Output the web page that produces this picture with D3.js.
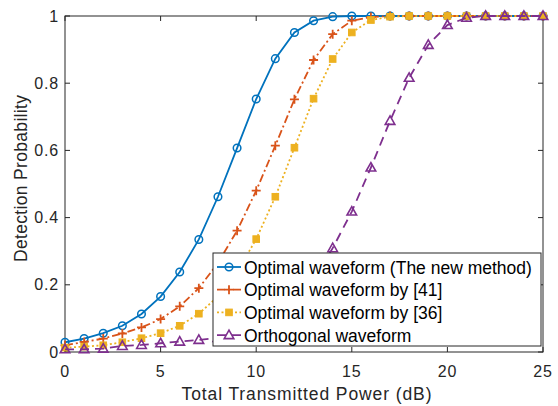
<!DOCTYPE html>
<html>
<head>
<meta charset="utf-8">
<script src="https://cdn.jsdelivr.net/npm/d3@7"></script>
<style>
  body { margin: 0; background: #fff; }
  svg { display: block; font-family: Arial, "Liberation Sans", sans-serif; }
</style>
</head>
<body>
<script>
// transmitted power (dB)
const power = d3.range(0, 26);

const newMethod = [0.029, 0.04, 0.056, 0.078, 0.113, 0.165, 0.238, 0.335, 0.462, 0.607,
  0.753, 0.873, 0.951, 0.986, 0.998, 1, 1, 1, 1, 1, 1, 1, 1, 1, 1, 1];
const ref41 = [0.02, 0.03, 0.04, 0.055, 0.073, 0.098, 0.136, 0.19, 0.265, 0.361,
  0.48, 0.614, 0.752, 0.869, 0.946, 0.986, 0.997, 1, 1, 1, 1, 1, 1, 1, 1, 1];
const ref36 = [0.013, 0.016, 0.02, 0.029, 0.041, 0.056, 0.078, 0.114, 0.165, 0.238,
  0.336, 0.462, 0.608, 0.754, 0.872, 0.951, 0.988, 0.998, 1, 1, 1, 1, 1, 1, 1, 1];
const orthogonal = [0.008, 0.008, 0.01, 0.018, 0.021, 0.026, 0.031, 0.036, 0.042, 0.05,
  0.065, 0.095, 0.145, 0.215, 0.309, 0.418, 0.549, 0.688, 0.816, 0.914, 0.973, 0.995, 1, 1, 1, 1];

const xTicks = [0, 5, 10, 15, 20, 25];
const yTicks = [0, 0.2, 0.4, 0.6, 0.8, 1];

const series = [
  { name: "Optimal waveform (The new method)", values: newMethod, color: "#0072BD", dash: null, marker: "circle" },
  { name: "Optimal waveform by [41]", values: ref41, color: "#D95319", dash: "8,3,2,3", marker: "plus" },
  { name: "Optimal waveform by [36]", values: ref36, color: "#EDB120", dash: "2,2.5", marker: "square" },
  { name: "Orthogonal waveform", values: orthogonal, color: "#7E2F8E", dash: "9,6", marker: "triangle" }
];

const width = 558, height = 406;
const margin = { top: 16, right: 15, bottom: 54, left: 65 };

const svg = d3.select("body").append("svg")
  .attr("width", width)
  .attr("height", height);

const x = d3.scaleLinear().domain([0, 25]).range([margin.left, width - margin.right]);
const y = d3.scaleLinear().domain([0, 1]).range([height - margin.bottom, margin.top]);

const axisColor = "#262626";

// box
svg.append("rect")
  .attr("x", x(0)).attr("y", y(1))
  .attr("width", x(25) - x(0)).attr("height", y(0) - y(1))
  .attr("fill", "none").attr("stroke", axisColor).attr("stroke-width", 1);

// ticks (inside, MATLAB style)
const tl = 5;
xTicks.forEach(t => {
  svg.append("line").attr("x1", x(t)).attr("x2", x(t)).attr("y1", y(0)).attr("y2", y(0) - tl)
    .attr("stroke", axisColor);
  svg.append("line").attr("x1", x(t)).attr("x2", x(t)).attr("y1", y(1)).attr("y2", y(1) + tl)
    .attr("stroke", axisColor);
});
yTicks.forEach(t => {
  svg.append("line").attr("x1", x(0)).attr("x2", x(0) + tl).attr("y1", y(t)).attr("y2", y(t))
    .attr("stroke", axisColor);
  svg.append("line").attr("x1", x(25)).attr("x2", x(25) - tl).attr("y1", y(t)).attr("y2", y(t))
    .attr("stroke", axisColor);
});

svg.selectAll(".xlab").data(xTicks).enter().append("text")
  .attr("x", d => x(d)).attr("y", y(0) + 24.5)
  .attr("text-anchor", "middle")
  .attr("font-size", 16).attr("letter-spacing", 0.8).attr("fill", axisColor)
  .text(d => d);

svg.selectAll(".ylab").data(yTicks).enter().append("text")
  .attr("x", x(0) - 6).attr("y", d => y(d) + 5.5)
  .attr("text-anchor", "end")
  .attr("font-size", 16).attr("letter-spacing", 0.8).attr("fill", axisColor)
  .text(d => d);

svg.append("text")
  .attr("x", 306.5).attr("y", 400)
  .attr("text-anchor", "middle").attr("font-size", 17.5).attr("fill", axisColor)
  .attr("textLength", 250).attr("lengthAdjust", "spacing")
  .text("Total Transmitted Power (dB)");

svg.append("text")
  .attr("transform", "translate(27,178.5) rotate(-90)")
  .attr("text-anchor", "middle").attr("font-size", 17.5).attr("fill", axisColor)
  .attr("textLength", 167).attr("lengthAdjust", "spacing")
  .text("Detection Probability");

// markers
function drawMarker(g, type, cx, cy, color) {
  if (type === "circle") {
    g.append("circle").attr("cx", cx).attr("cy", cy).attr("r", 3.8)
      .attr("fill", "none").attr("stroke", color).attr("stroke-width", 1.5);
  } else if (type === "plus") {
    g.append("path").attr("d", `M${cx - 4.5},${cy}H${cx + 4.5}M${cx},${cy - 4.5}V${cy + 4.5}`)
      .attr("stroke", color).attr("stroke-width", 1.8);
  } else if (type === "square") {
    g.append("rect").attr("x", cx - 3.3).attr("y", cy - 3.3).attr("width", 6.6).attr("height", 6.6)
      .attr("fill", color).attr("stroke", color).attr("stroke-width", 1);
  } else if (type === "triangle") {
    g.append("path").attr("d", `M${cx},${cy - 5}L${cx + 4.8},${cy + 3.5}L${cx - 4.8},${cy + 3.5}Z`)
      .attr("fill", "none").attr("stroke", color).attr("stroke-width", 1.6);
  }
}

const line = d3.line().x((d, i) => x(power[i])).y(d => y(d));

const plot = svg.append("g");
series.forEach(s => {
  const g = plot.append("g");
  g.append("path").datum(s.values)
    .attr("d", line)
    .attr("fill", "none")
    .attr("stroke", s.color)
    .attr("stroke-width", 1.8)
    .attr("stroke-dasharray", s.dash);
  s.values.forEach((v, i) => drawMarker(g, s.marker, x(power[i]), y(v), s.color));
});

// legend
const lg = svg.append("g");
const lx = 213, ly = 253, lw = 328, lh = 93;
lg.append("rect").attr("x", lx).attr("y", ly).attr("width", lw).attr("height", lh)
  .attr("fill", "#fff").attr("stroke", axisColor).attr("stroke-width", 1);

series.forEach((s, i) => {
  const cy = ly + 14 + i * 22.7;
  lg.append("line").attr("x1", lx + 4).attr("x2", lx + 28).attr("y1", cy).attr("y2", cy)
    .attr("stroke", s.color).attr("stroke-width", 1.8).attr("stroke-dasharray", s.dash);
  drawMarker(lg, s.marker, lx + 16, cy, s.color);
  lg.append("text").attr("x", lx + 31).attr("y", cy + 6.5)
    .attr("font-size", 17.5).attr("fill", "#000")
    .text(s.name);
});
</script>
</body>
</html>
